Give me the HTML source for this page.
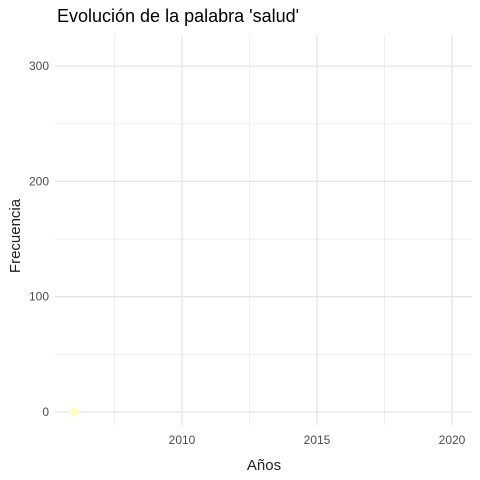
<!DOCTYPE html>
<html><head><meta charset="utf-8"><style>
body{margin:0;background:#fff;}
svg{display:block;font-family:"Liberation Sans",Arial,sans-serif;}
</style></head><body>
<svg id="chart" width="480" height="480">
<text x="57" y="22" font-size="18" fill="#000">Evolución de la palabra 'salud'</text>
<g id="grid"></g><g id="axes"></g><g id="marks"></g>
<text x="264" y="470" font-size="15" fill="#222" text-anchor="middle">Años</text>
<text transform="translate(20,236) rotate(-90)" font-size="15" fill="#222" text-anchor="middle">Frecuencia</text>
</svg>
<script>
const years=[2006];
const counts=[0];
const xTicks=[2010,2015,2020];
const yTicks=[0,100,200,300];
const xMinor=[2007.5,2012.5,2017.5];
const yMinor=[50,150,250];
const X=v=>182+(v-2010)*27;
const Y=v=>412-v*1.153;
const ns="http://www.w3.org/2000/svg";
const L=55,R=472,T=35,B=425;
function mk(tag,attrs,parent){const e=document.createElementNS(ns,tag);for(const k in attrs)e.setAttribute(k,attrs[k]);document.getElementById(parent).appendChild(e);return e;}
xMinor.forEach(v=>{const e=mk('line',{x1:X(v),x2:X(v),y1:T,y2:B,stroke:'#ebebeb','stroke-width':0.8},'grid');

});
yMinor.forEach(v=>{const e=mk('line',{x1:L,x2:R,y1:Y(v),y2:Y(v),stroke:'#ebebeb','stroke-width':0.8},'grid');

});
xTicks.forEach(v=>{const e=mk('line',{x1:X(v),x2:X(v),y1:T,y2:B,stroke:'#e5e5e5','stroke-width':1.3},'grid');


const t=mk('text',{x:X(v),y:444,'font-size':12,fill:'#4d4d4d','text-anchor':'middle'},'axes');t.textContent=v;

});
yTicks.forEach(v=>{const e=mk('line',{x1:L,x2:R,y1:Y(v),y2:Y(v),stroke:'#e5e5e5','stroke-width':1.3},'grid');


const t=mk('text',{x:49,y:Y(v)+4,'font-size':12,fill:'#4d4d4d','text-anchor':'end'},'axes');t.textContent=v;

});
years.forEach((y,i)=>{const c=mk('circle',{cx:X(y),cy:Y(counts[i]),r:4.5,fill:'#ffffbf'},'marks');

});
</script>
</body></html>
